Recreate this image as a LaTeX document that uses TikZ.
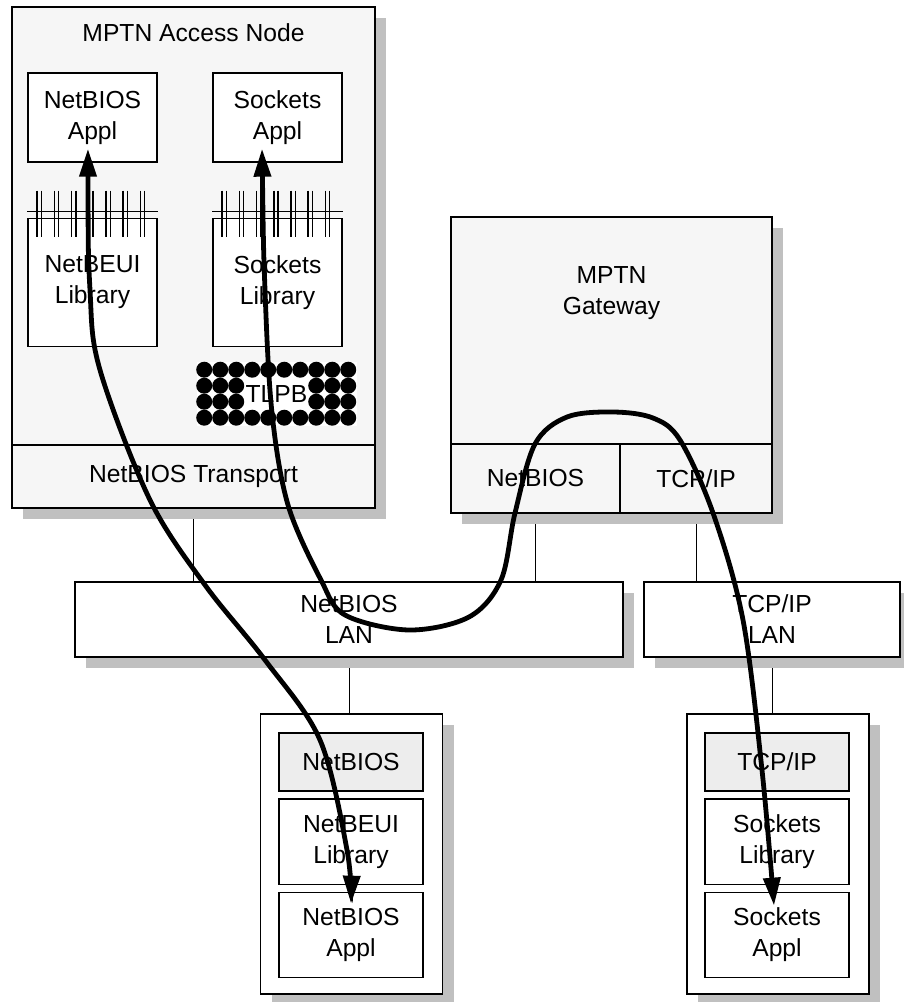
\documentclass[tikz,border=0pt]{standalone}
\usepackage{fontspec}
\setmainfont{Liberation Sans}
\usetikzlibrary{arrows.meta,positioning,shadows,backgrounds}
\definecolor{panel}{HTML}{F6F6F6}
\definecolor{stack}{HTML}{EDEDED}
\definecolor{shade}{HTML}{C0C0C0}

\begin{document}
\begin{tikzpicture}[x=0.75pt,y=-0.75pt,
every node/.style={font=\fontsize{18.5}{23.25}\selectfont,align=center},
site/.style={draw,line width=1pt,inner sep=0pt,drop shadow={shadow xshift=8.25pt,shadow yshift=-8.25pt,fill=shade,opacity=1}},
cell/.style={draw,line width=1pt,inner sep=0pt,fill=panel},
unit/.style={draw,line width=1pt,inner sep=0pt,fill=white,minimum width=108pt,minimum height=64pt},
layer/.style={unit,fill=stack,minimum height=43.5pt},
app/.style={unit,minimum width=96.75pt,minimum height=66.75pt},
hatch/.style={line width=1.1pt},
wire/.style={line width=0.75pt},
flow/.style={{Triangle[length=21pt,width=12.5pt]}-{Triangle[length=21pt,width=12.5pt]},line width=3.6pt}]
\useasboundingbox (0,0) rectangle (903,1002);
\node[site,fill=panel,minimum width=272.25pt,minimum height=375.75pt](access) at (193.5,257.5){};
\node(antitle) at (193.5,33){MPTN Access Node};
\node[cell,minimum width=272.25pt,minimum height=47.25pt](nbt) at (193.5,476.5){NetBIOS Transport};
\node[app](nbappl) at (92.5,117.5){NetBIOS\\Appl};
\node[app,below=41.25pt of nbappl,minimum height=96pt](nblib){NetBEUI\\Library};
\node[app](skappl) at (277.5,117.5){Sockets\\Appl};
\node[app,below=41.25pt of skappl,minimum height=96pt](sklib){Sockets\\Library};
\foreach \lib in {nblib,sklib}{
  \draw[hatch] ([yshift=4.5pt]\lib.north west) -- ([yshift=4.5pt]\lib.north east);
  \foreach \k in {0,...,6}{
    \draw[hatch] ([xshift={7.4pt+12.9pt*\k},yshift=20.25pt]\lib.north west) -- ++(0,46);
    \draw[hatch] ([xshift={10.6pt+12.9pt*\k},yshift=20.25pt]\lib.north west) -- ++(0,46);
  }
}
\node[fill=white,inner sep=0pt,minimum width=120pt,minimum height=48pt](tlpb) at (276.5,394){TLPB};
\foreach \r in {0,...,3}{
  \foreach \c in {0,...,9}{
    \pgfmathtruncatemacro\gap{(\r==1||\r==2)&&(\c>2)&&(\c<7)}
    \ifnum\gap=0 \fill ([xshift={6pt+12pt*\c},yshift={-6pt-12pt*\r}]tlpb.north west) circle[radius=6pt];\fi
  }
}
\node[site,fill=panel,minimum width=240.75pt,minimum height=222pt](gw) at (611.5,365){};
\node(gwtitle) at (611.5,293.5){MPTN\\Gateway};
\node[cell,minimum width=126.75pt,minimum height=51.75pt](gwnb) at (535.5,478.5){NetBIOS};
\node[cell,minimum width=114pt,minimum height=51.75pt](gwtcp) at (696,478.5){TCP/IP};
\node[site,fill=white,minimum width=411pt,minimum height=56.25pt](nblan) at (349,619.5){NetBIOS\\LAN};
\node[site,fill=white,minimum width=192pt,minimum height=56.25pt](tcplan) at (772,619.5){TCP/IP\\LAN};
\node[site,fill=white,minimum width=136.5pt,minimum height=210pt](lhost) at (351.5,854){};
\node[layer](lnb) at (351,762){NetBIOS};
\node[unit,below=5pt of lnb](llib){NetBEUI\\Library};
\node[unit,below=5pt of llib](lappl){NetBIOS\\Appl};
\node[site,fill=white,minimum width=136.5pt,minimum height=210pt](rhost) at (778,854){};
\node[layer](rtcp) at (777,762){TCP/IP};
\node[unit,below=5pt of rtcp](rlib){Sockets\\Library};
\node[unit,below=5pt of rlib](rappl){Sockets\\Appl};
\begin{scope}[on background layer]
\draw[wire](nbt.south) -- (nbt.south |- nblan.north);
\draw[wire](gwnb.south) -- (gwnb.south |- nblan.north);
\draw[wire](gwtcp.south) -- (gwtcp.south |- tcplan.north);
\draw[wire](nblan.south) -- (nblan.south |- lhost.north);
\draw[wire](tcplan.south) -- (tcplan.south |- rhost.north);
\end{scope}
\coordinate(tipa) at ([xshift=-3.4pt,yshift=10.5pt]nbappl.south);
\coordinate(tipb) at ([yshift=-9pt]lappl.north);
\coordinate(tipc) at ([xshift=-11.6pt,yshift=10.5pt]skappl.south);
\coordinate(tipd) at ([xshift=-2.25pt,yshift=-10.5pt]rappl.north);
\draw[flow] plot[smooth,tension=0.55] coordinates {(tipa) (90,290) (100,370) (150,500) (205,585) (265,660) (320,740) (347,850) (tipb)};
\draw[flow] plot[smooth,tension=0.55] coordinates {(tipc) (265,290) (272,413) (288,505) (321,580) (345,615) (409,630) (469,617) (501,580) (515,513) (535,444) (567,417) (613,412) (653,418) (680,440) (713,513) (743,620) (762,770) (tipd)};
\end{tikzpicture}
\end{document}
